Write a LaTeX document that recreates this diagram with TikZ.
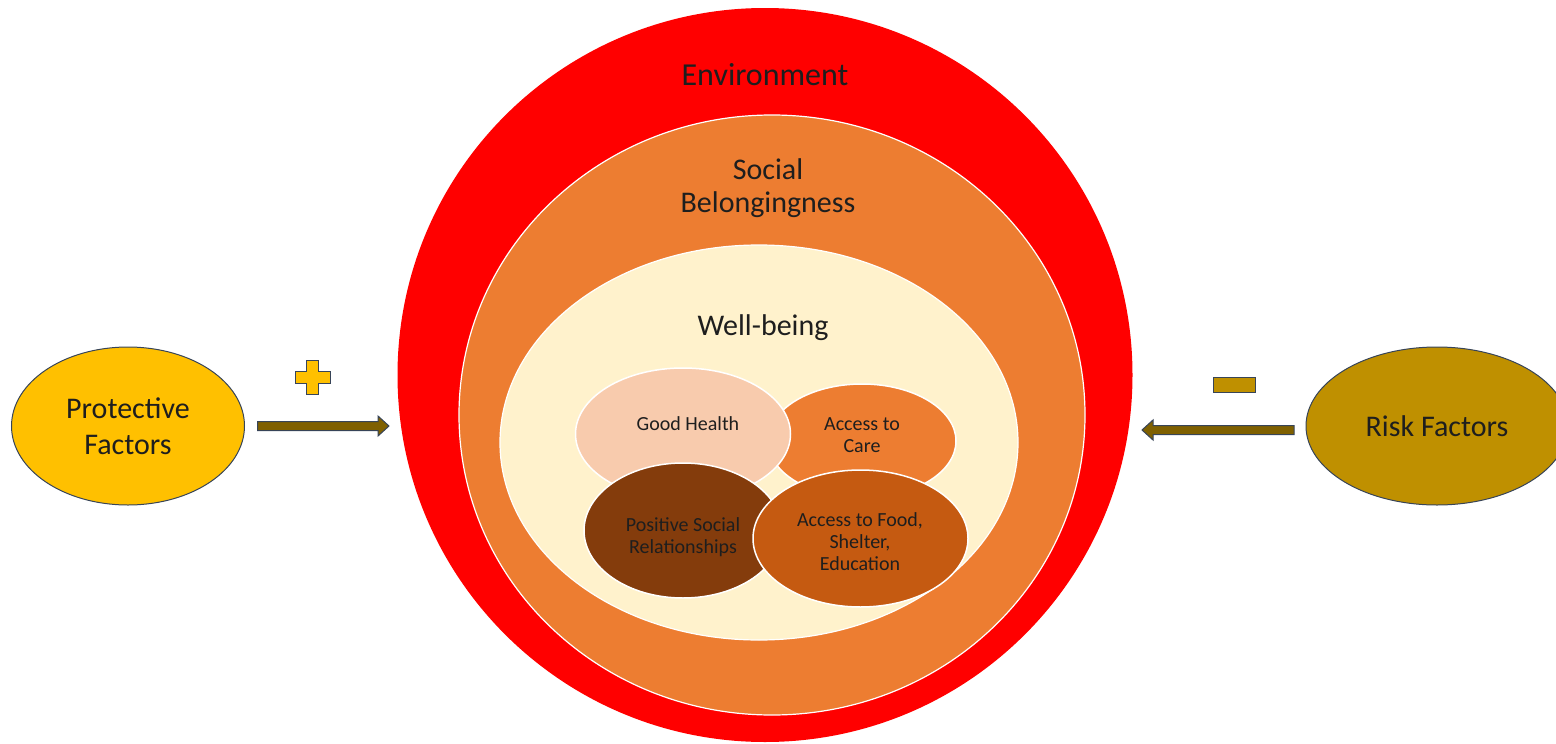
\documentclass[tikz,border=0pt]{standalone}
\usepackage{fontspec}
\setmainfont{Carlito}
\usetikzlibrary{shapes.geometric,calc}

\definecolor{envred}{RGB}{255,0,0}
\definecolor{socorange}{RGB}{237,125,49}
\definecolor{wellcream}{RGB}{255,242,204}
\definecolor{healthpeach}{RGB}{248,203,173}
\definecolor{relbrown}{RGB}{132,60,12}
\definecolor{foodrust}{RGB}{197,90,17}
\definecolor{protgold}{RGB}{255,192,0}
\definecolor{riskgold}{RGB}{191,144,0}
\definecolor{arrowbrown}{RGB}{127,96,0}
\definecolor{edgeslate}{RGB}{55,68,88}
\definecolor{txtdark}{RGB}{30,30,30}

\begin{document}
\begin{tikzpicture}[x=1pt,y=-1pt,
    ring/.style={ellipse, inner sep=0pt, outer sep=0pt, draw=white, line width=1.2pt},
    blob/.style={ellipse, inner sep=0pt, outer sep=0pt, draw=white, line width=1.5pt},
    blobtext/.style={align=center, text=txtdark, font=\fontsize{20}{22}\selectfont},
    factor/.style={ellipse, inner sep=0pt, outer sep=0pt, draw=edgeslate, line width=1pt,
      align=center, text=txtdark, font=\fontsize{30}{36}\selectfont},
    ringlabel/.style={align=center, text=txtdark, font=\fontsize{30}{33}\selectfont},
    fatarrow/.style={fill=arrowbrown, draw=edgeslate, line width=1pt, line join=miter},
    signbox/.style={draw=edgeslate, line width=1pt, line join=miter}]
  \useasboundingbox (0,0) rectangle (1556,744);
  \clip (0,0) rectangle (1556,744);

  % nested rings
  \node[ring, fill=envred, draw=none, minimum width=735pt, minimum height=734pt] (env) at (765,375) {};
  \node[ring, fill=socorange, minimum width=626pt, minimum height=600pt] (soc) at (772,415) {};
  \node[ring, fill=wellcream, minimum width=518pt, minimum height=395pt] (well) at (759,442.5) {};
  \node[ringlabel, font=\fontsize{32}{34}\selectfont] (envtxt) at (765,75) {Environment};
  \node[ringlabel] (soctxt) at (768,188) {Social\\Belongingness};
  \node[ringlabel] (welltxt) at (763,328) {Well-being};

  % the four overlapping components
  \node[blob, fill=socorange, minimum width=188pt, minimum height=114pt] (care) at (862,441) {};
  \node[blob, fill=healthpeach, minimum width=215pt, minimum height=132pt] (health) at (683,434) {};
  \node[blob, fill=relbrown, minimum width=198pt, minimum height=135pt] (rel) at (683,530.5) {};
  \node[blob, fill=foodrust, minimum width=215pt, minimum height=137pt] (food) at (860.5,538.5) {};
  \node[blobtext] (healthtxt) at (688,424) {Good Health};
  \node[blobtext] (caretxt) at (862,435) {Access to\\Care};
  \node[blobtext] (reltxt) at (683,537) {Positive Social\\Relationships};
  \node[blobtext] (foodtxt) at (860,542) {Access to Food,\\Shelter,\\Education};

  % factors on both sides
  \node[factor, fill=protgold, minimum width=233pt, minimum height=158pt] (pf) at (128,426) {Protective\\Factors};
  \node[factor, fill=riskgold, minimum width=262pt, minimum height=158pt] (rf) at (1437,426) {Risk Factors};

  % block arrows towards the rings
  \coordinate (pa) at ($(pf.east)+(13,0)$);
  \coordinate (pb) at ($(env.west |- pf.east)+(-8.5,0)$);
  \draw[fatarrow] ($(pa)+(0,-4.5)$) -- ($(pb)+(-11,-4.5)$) -- ++(0,-5.5) -- (pb)
    -- ($(pb)+(-11,10)$) -- ++(0,-5.5) -- ($(pa)+(0,4.5)$) -- cycle;
  \coordinate (ra) at ($(rf.west)+(-12,4)$);
  \coordinate (rb) at ($(env.east |- rf.west)+(9.5,4)$);
  \draw[fatarrow] ($(ra)+(0,-4.5)$) -- ($(rb)+(11,-4.5)$) -- ++(0,-5.5) -- (rb)
    -- ($(rb)+(11,10)$) -- ++(0,-5.5) -- ($(ra)+(0,4.5)$) -- cycle;

  % plus and minus signs
  \coordinate (plus) at (312.5,377);
  \draw[signbox, fill=protgold] (plus) ++(-6,-17) -- ++(12,0) -- ++(0,11) -- ++(11.5,0)
    -- ++(0,12) -- ++(-11.5,0) -- ++(0,11) -- ++(-12,0) -- ++(0,-11) -- ++(-11.5,0)
    -- ++(0,-12) -- ++(11.5,0) -- cycle;
  \node[signbox, fill=riskgold, inner sep=0pt, minimum width=42pt, minimum height=15pt] (minus) at (1234,384.5) {};
\end{tikzpicture}
\end{document}
